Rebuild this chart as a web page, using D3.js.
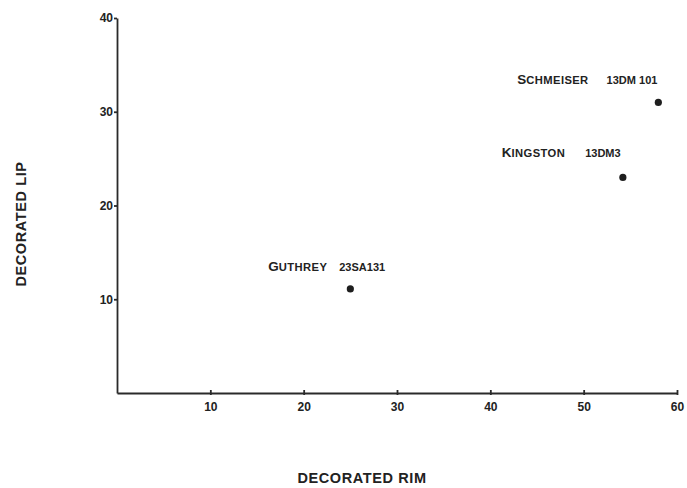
<!DOCTYPE html>
<meta charset="utf-8">
<style>
body { margin: 0; background: #fff; }
svg { background: #fff; }
.axis path, .axis line { fill: none; stroke: #2a2a2a; stroke-width: 1.8px; }
.axis text { font: bold 12px "Liberation Sans", Arial, sans-serif; fill: #222; }
.title { font: bold 14.5px "Liberation Sans", Arial, sans-serif; fill: #222; letter-spacing: 0.6px; }
.lbl { font-family: "Liberation Sans", Arial, sans-serif; font-weight: bold; fill: #222; }
.dot { fill: #1e1e1e; }
</style>
<body>
<script src="https://d3js.org/d3.v7.min.js"></script>
<script>

var sites = ["Guthrey", "Kingston", "Schmeiser"];
var siteCodes = ["23SA131", "13DM3", "13DM 101"];
var rimValues = [25, 54.2, 58];
var lipValues = [11.1, 23, 31];
var xTicks = [10, 20, 30, 40, 50, 60];
var yTicks = [10, 20, 30, 40];

// where each label sits relative to its point
var labelOffset = {
	"Guthrey": {dx: -82, dy: -18, gap: 12},
	"Kingston": {dx: -121, dy: -20, gap: 20},
	"Schmeiser": {dx: -141, dy: -18, gap: 18}
};

var margin = {top: 18, left: 117};

var x = d3.scaleLinear().domain([0, 60]).range([0, 560]);
var y = d3.scaleLinear().domain([0, 40]).range([375, 0]);

var svg = d3.select("body").append("svg")
	.attr("width", 687)
	.attr("height", 488);

var g = svg.append("g")
	.attr("transform", "translate(" + margin.left + "," + margin.top + ")");

g.append("g")
	.attr("class", "x axis")
	.attr("transform", "translate(0," + y(0) + ")")
	.call(d3.axisBottom(x).tickValues(xTicks).tickSize(3).tickSizeOuter(0).tickPadding(6))
	.call(function(s) { s.selectAll(".tick line").attr("y1", -3).attr("y2", 2); });

g.append("g")
	.attr("class", "y axis")
	.call(d3.axisLeft(y).tickValues(yTicks).tickSize(3).tickSizeOuter(0).tickPadding(1));

var data = sites.map(function(s, i) {
	return {name: s, code: siteCodes[i], rim: rimValues[i], lip: lipValues[i]};
});

g.selectAll(".dot")
	.data(data)
	.enter().append("circle")
	.attr("class", "dot")
	.attr("cx", function(d) { return x(d.rim); })
	.attr("cy", function(d) { return y(d.lip); })
	.attr("r", 3.6);

var lbl = g.selectAll(".lbl")
	.data(data)
	.enter().append("text")
	.attr("class", "lbl")
	.attr("x", function(d) { return x(d.rim) + labelOffset[d.name].dx; })
	.attr("y", function(d) { return y(d.lip) + labelOffset[d.name].dy; });

lbl.append("tspan")
	.style("font-size", "13.5px")
	.text(function(d) { return d.name.charAt(0).toUpperCase(); });
lbl.append("tspan")
	.style("font-size", "11.2px")
	.style("letter-spacing", "0.4px")
	.text(function(d) { return d.name.slice(1).toUpperCase(); });
lbl.append("tspan")
	.style("font-size", "11px")
	.attr("dx", function(d) { return labelOffset[d.name].gap; })
	.text(function(d) { return d.code; });

svg.append("text")
	.attr("class", "title")
	.attr("text-anchor", "middle")
	.attr("x", 362)
	.attr("y", 483)
	.text("DECORATED RIM");

svg.append("text")
	.attr("class", "title")
	.attr("text-anchor", "middle")
	.attr("transform", "translate(26,224) rotate(-90)")
	.text("DECORATED LIP");

</script>
</body>
